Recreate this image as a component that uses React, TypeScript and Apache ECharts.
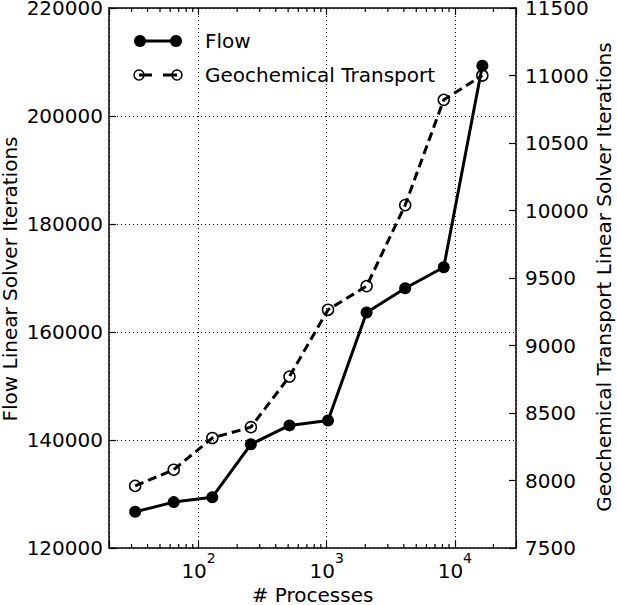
import React, { useEffect, useRef } from 'react';
import * as echarts from 'echarts';

// ---- data ----
const processes = [32, 64, 128, 256, 512, 1024, 2048, 4096, 8192, 16384];
const flowIterations = [126700, 128500, 129400, 139200, 142700, 143600, 163600, 168100, 172000, 209300];
const geochemIterations = [7960, 8080, 8315, 8395, 8770, 9265, 9440, 10040, 10820, 11000];
const seriesNames = ['Flow', 'Geochemical Transport'];
const xAxisTitle = '# Processes';
const leftAxisTitle = 'Flow Linear Solver Iterations';
const rightAxisTitle = 'Geochemical Transport Linear Solver Iterations';
const minorTickValues = [
  30, 40, 50, 60, 70, 80, 90,
  200, 300, 400, 500, 600, 700, 800, 900,
  2000, 3000, 4000, 5000, 6000, 7000, 8000, 9000,
  20000,
];

const FONT = 'DejaVu Sans';
const X_MIN = 20;
const X_MAX = 30000;
const YL_MIN = 120000;
const YL_MAX = 220000;
const YR_MIN = 7500;
const YR_MAX = 11500;

export default function App() {
  const ref = useRef<HTMLDivElement>(null);
  useEffect(() => {
    document.body.style.margin = '0';
    const chart = echarts.init(ref.current!, null, { renderer: 'svg' });

    const xLabelFormatter = (v: number) => {
      const e = Math.log10(v);
      if (Math.abs(e - Math.round(e)) < 1e-6) return `{b|10}{s|${Math.round(e)}}`;
      return '';
    };

    const axisLineStyle = { color: '#000', width: 1.5 };
    const tickStyle = { color: '#000', width: 1.2 };
    const titleStyle = { fontSize: 20, fontFamily: FONT, fill: '#000', align: 'center', verticalAlign: 'middle' };

    chart.setOption({
      animation: false,
      backgroundColor: '#fff',
      textStyle: { fontFamily: FONT },
      grid: { left: 109, right: 101, top: 8, bottom: 57, containLabel: false, outerBoundsMode: 'none' },
      xAxis: [
        {
          type: 'log',
          logBase: 10,
          min: X_MIN,
          max: X_MAX,
          position: 'bottom',
          name: xAxisTitle,
          nameLocation: 'middle',
          nameGap: 37,
          nameMoveOverlap: false,
          nameTextStyle: { fontSize: 20, color: '#000', fontFamily: FONT },
          axisLine: { show: true, onZero: false, lineStyle: axisLineStyle },
          axisTick: { show: true, inside: true, length: 7, lineStyle: tickStyle },
          axisLabel: {
            formatter: xLabelFormatter,
            margin: 3,
            color: '#000',
            rich: {
              b: { fontSize: 20, fontFamily: FONT, color: '#000', lineHeight: 30, verticalAlign: 'bottom' },
              s: { fontSize: 14, fontFamily: FONT, color: '#000', lineHeight: 16, verticalAlign: 'top' },
            },
          },
          splitLine: { show: true, lineStyle: { color: '#000', width: 1, type: [1, 3] } },
        },
        {
          type: 'log',
          logBase: 10,
          min: X_MIN,
          max: X_MAX,
          position: 'top',
          axisLine: { show: true, onZero: false, lineStyle: axisLineStyle },
          axisTick: { show: true, inside: true, length: 7, lineStyle: tickStyle },
          axisLabel: { show: false },
          splitLine: { show: false },
        },
      ],
      yAxis: [
        {
          type: 'value',
          min: YL_MIN,
          max: YL_MAX,
          interval: 20000,
          position: 'left',
          axisLine: { show: true, onZero: false, lineStyle: axisLineStyle },
          axisTick: { show: true, inside: true, length: 7, lineStyle: tickStyle },
          axisLabel: { formatter: (v: number) => String(v), fontSize: 20, color: '#000', margin: 6, fontFamily: FONT },
          splitLine: { show: true, lineStyle: { color: '#000', width: 1, type: [1, 3] } },
        },
        {
          type: 'value',
          min: YR_MIN,
          max: YR_MAX,
          interval: 500,
          position: 'right',
          axisLine: { show: true, onZero: false, lineStyle: axisLineStyle },
          axisTick: { show: true, inside: true, length: 7, lineStyle: tickStyle },
          axisLabel: { formatter: (v: number) => String(v), fontSize: 20, color: '#000', margin: 9, fontFamily: FONT },
          splitLine: { show: false },
        },
      ],
      series: [
        {
          type: 'custom',
          name: 'minorTicks',
          xAxisIndex: 0,
          yAxisIndex: 0,
          silent: true,
          clip: false,
          data: minorTickValues.map((v) => [v, YL_MIN]),
          renderItem: (_params: any, api: any) => {
            const v = api.value(0);
            const b = api.coord([v, YL_MIN]);
            const t = api.coord([v, YL_MAX]);
            return {
              type: 'group',
              children: [
                { type: 'line', shape: { x1: b[0], y1: b[1], x2: b[0], y2: b[1] - 4 }, style: { stroke: '#000', lineWidth: 1.2 } },
                { type: 'line', shape: { x1: t[0], y1: t[1], x2: t[0], y2: t[1] + 4 }, style: { stroke: '#000', lineWidth: 1.2 } },
              ],
            };
          },
        },
        {
          type: 'line',
          name: seriesNames[0],
          xAxisIndex: 0,
          yAxisIndex: 0,
          data: processes.map((p, i) => [p, flowIterations[i]]),
          symbol: 'circle',
          symbolSize: 12,
          lineStyle: { color: '#000', width: 3 },
          itemStyle: { color: '#000' },
          z: 3,
        },
        {
          type: 'line',
          name: seriesNames[1],
          xAxisIndex: 0,
          yAxisIndex: 1,
          data: processes.map((p, i) => [p, geochemIterations[i]]),
          symbol: 'circle',
          symbolSize: 11,
          lineStyle: { color: '#000', width: 3, type: [9, 5] },
          itemStyle: { color: 'rgba(0,0,0,0)', borderColor: '#000', borderWidth: 1.5 },
          z: 3,
        },
      ],
      graphic: [
        { type: 'text', x: 10, y: 279, rotation: Math.PI / 2, style: { text: leftAxisTitle, ...titleStyle } },
        { type: 'text', x: 604, y: 277, rotation: Math.PI / 2, style: { text: rightAxisTitle, ...titleStyle } },
        { type: 'line', shape: { x1: 140, y1: 41, x2: 176, y2: 41 }, style: { stroke: '#000', lineWidth: 3 } },
        { type: 'circle', shape: { cx: 140, cy: 41, r: 6 }, style: { fill: '#000' } },
        { type: 'circle', shape: { cx: 176, cy: 41, r: 6 }, style: { fill: '#000' } },
        { type: 'text', x: 205, y: 41, style: { text: seriesNames[0], fontSize: 20, fontFamily: FONT, fill: '#000', verticalAlign: 'middle' } },
        { type: 'line', shape: { x1: 139, y1: 75, x2: 152, y2: 75 }, style: { stroke: '#000', lineWidth: 3 } },
        { type: 'line', shape: { x1: 163, y1: 75, x2: 177, y2: 75 }, style: { stroke: '#000', lineWidth: 3 } },
        { type: 'circle', shape: { cx: 139, cy: 75, r: 5 }, style: { fill: 'none', stroke: '#000', lineWidth: 1.5 } },
        { type: 'circle', shape: { cx: 177, cy: 75, r: 5 }, style: { fill: 'none', stroke: '#000', lineWidth: 1.5 } },
        { type: 'text', x: 205, y: 75, style: { text: seriesNames[1], fontSize: 20, fontFamily: FONT, fill: '#000', verticalAlign: 'middle' } },
      ],
    });
    return () => chart.dispose();
  }, []);
  return <div ref={ref} style={{ width: 617, height: 605 }} />;
}
